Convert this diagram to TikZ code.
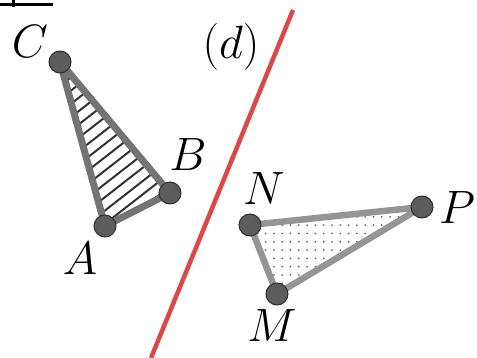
\documentclass[tikz,border=0pt]{standalone}
\usetikzlibrary{patterns.meta}
\definecolor{edgeA}{HTML}{747474}
\definecolor{edgeB}{HTML}{959595}
\definecolor{vfill}{HTML}{5C5C5C}
\definecolor{vdraw}{HTML}{303030}
\definecolor{hatch}{HTML}{333333}
\definecolor{dotc}{HTML}{666666}
\definecolor{dline}{HTML}{DB4848}
\tikzset{
  vtx/.style={circle,fill=vfill,draw=vdraw,line width=1pt,minimum size=22pt,inner sep=0pt},
  lbl/.style={font=\Huge,scale=1.88,inner sep=0pt},
  triA/.style={draw=edgeA,line width=7pt,line join=round},
  hatchline/.style={draw=hatch,line width=2pt},
  triB/.style={draw=edgeB,line width=6.5pt,line join=round,pattern={Dots[distance=8.3pt,radius=1pt]},pattern color=dotc},
}
\begin{document}
\begin{tikzpicture}[x=1pt,y=-1pt]
\useasboundingbox (0,0) rectangle (477,358);
% clipped heading underline at top-left
\fill[black] (0,3) rectangle (53,6.5);
\fill[black] (12,0) rectangle (14.5,7);
% line (d)
\coordinate (d1) at (293,10);
\coordinate (d2) at (151,358);
\draw[dline,line width=4.5pt] (d1) -- (d2);
\node[lbl] (dl) at (231,47) {$(d)$};
% triangle ABC
\coordinate (a) at (105,226);
\coordinate (b) at (170,193);
\coordinate (c) at (60,62);
\begin{scope}
  \clip (a) -- (b) -- (c) -- cycle;
  \foreach \k in {-16,...,16} {
    \draw[hatchline] ({110+6.47*\k-236},{140+8.27*\k+184}) -- ++(472,-368);
  }
\end{scope}
\draw[triA] (a) -- (b) -- (c) -- cycle;
\node[vtx] (A) at (a) {};
\node[vtx] (B) at (b) {};
\node[vtx] (C) at (c) {};
\node[lbl] (Al) at (80,259) {$A$};
\node[lbl] (Bl) at (188,155) {$B$};
\node[lbl] (Cl) at (30,42) {$C$};
% triangle MNP
\coordinate (n) at (250,225);
\coordinate (p) at (422,207);
\coordinate (m) at (277,294);
\draw[triB] (n) -- (p) -- (m) -- cycle;
\node[vtx] (N) at (n) {};
\node[vtx] (P) at (p) {};
\node[vtx] (M) at (m) {};
\node[lbl] (Nl) at (264,189) {$N$};
\node[lbl] (Pl) at (457,208) {$P$};
\node[lbl] (Ml) at (272,326) {$M$};
\end{tikzpicture}
\end{document}
